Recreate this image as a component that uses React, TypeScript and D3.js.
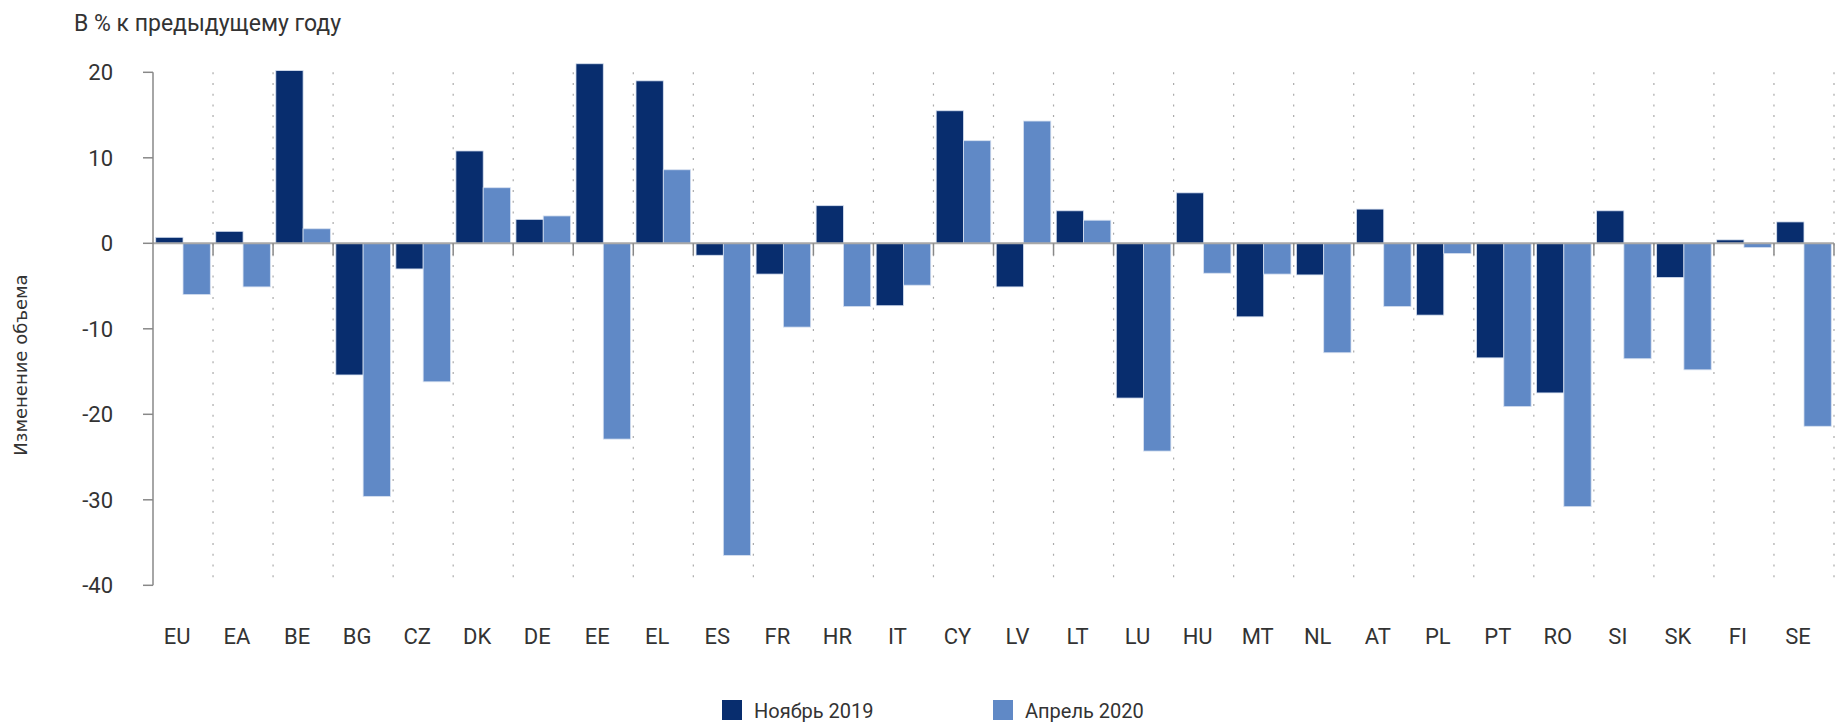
import React from "react";
import * as d3 from "d3";

const categories = ["EU","EA","BE","BG","CZ","DK","DE","EE","EL","ES","FR","HR","IT","CY","LV","LT","LU","HU","MT","NL","AT","PL","PT","RO","SI","SK","FI","SE"];
const nov2019 = [0.7,1.4,20.2,-15.4,-3.0,10.8,2.8,21.0,19.0,-1.4,-3.6,4.4,-7.3,15.5,-5.1,3.8,-18.1,5.9,-8.6,-3.7,4.0,-8.4,-13.4,-17.5,3.8,-4.0,0.4,2.5];
const apr2020 = [-6.0,-5.1,1.7,-29.6,-16.2,6.5,3.2,-22.9,8.6,-36.5,-9.8,-7.4,-4.9,12.0,14.3,2.7,-24.3,-3.5,-3.6,-12.8,-7.4,-1.2,-19.1,-30.8,-13.5,-14.8,-0.5,-21.4];
const seriesNames = ["Ноябрь 2019", "Апрель 2020"];
const yTicks = [20, 10, 0, -10, -20, -30, -40];
const titleText = "В % к предыдущему году";
const yLabel = "Изменение объема";

const W = 1843, H = 722;
const COLORS = ["#082d6e", "#6089c6"];
const FONT = "Roboto, 'Noto Sans', sans-serif";

export default function App() {
  const left = 153, right = 1834, top = 72.3, bottom = 585.3;
  const x = d3.scaleBand<string>().domain(categories).range([left, right]).paddingInner(0).paddingOuter(0);
  const xs = d3.scaleBand<number>().domain([0, 1]).range([0, x.bandwidth()]).paddingOuter(0.1).paddingInner(0);
  const y = d3.scaleLinear().domain([-40, 20]).range([bottom, top]);
  const y0 = y(0);
  const series = [nov2019, apr2020];
  const bounds = categories.map((c) => (x(c) as number) + x.bandwidth());

  return (
    <svg width={W} height={H} style={{ position: "absolute", left: 0, top: 0, background: "#fff" }} fontFamily={FONT}>
      <text x={74} y={31} fontSize={23} fill="#333">{titleText}</text>
      <text transform={`translate(27,365) rotate(-90)`} textAnchor="middle" fontSize={18} fill="#333" fontFamily="'DejaVu Sans', sans-serif">{yLabel}</text>

      {/* dotted category separators */}
      {bounds.map((bx, i) => (
        <line key={"g" + i} x1={bx} x2={bx} y1={top} y2={bottom} stroke="#aaa" strokeWidth={1.2} strokeDasharray="2 8.7" />
      ))}

      {/* bars */}
      {series.map((vals, si) =>
        vals.map((v, i) => {
          const bx = (x(categories[i]) as number) + (xs(si) as number);
          const yTop = Math.min(y(v), y0);
          const h = Math.abs(y(v) - y0);
          return <rect key={si + "-" + i} x={bx} y={yTop} width={xs.bandwidth()} height={h} fill={COLORS[si]} stroke="#d6e0f0" strokeWidth={0.8} />;
        })
      )}

      {/* zero line */}
      <line x1={left} x2={right} y1={y0} y2={y0} stroke="#a8a8a8" strokeWidth={2} />
      {bounds.map((bx, i) => (
        <line key={"t" + i} x1={bx} x2={bx} y1={y0} y2={y0 + 12} stroke="#888" strokeWidth={1.5} />
      ))}

      {/* y axis */}
      <line x1={left} x2={left} y1={top} y2={bottom} stroke="#888" strokeWidth={1.5} />
      {yTicks.map((t) => (
        <g key={"y" + t}>
          <line x1={left - 10} x2={left} y1={y(t)} y2={y(t)} stroke="#888" strokeWidth={1.5} />
          <text x={113} y={y(t) + 8} textAnchor="end" fontSize={22} fill="#333">{t}</text>
        </g>
      ))}

      {/* category labels */}
      {categories.map((c) => (
        <text key={"c" + c} x={(x(c) as number) + x.bandwidth() / 2 - 6} y={644} textAnchor="middle" fontSize={22} fill="#333">{c}</text>
      ))}

      {/* legend */}
      {seriesNames.map((n, i) => {
        const lx = [722, 993][i];
        return (
          <g key={"l" + i}>
            <rect x={lx} y={700} width={20} height={20} fill={COLORS[i]} />
            <text x={lx + 32} y={718} fontSize={20} fill="#333">{n}</text>
          </g>
        );
      })}
    </svg>
  );
}
